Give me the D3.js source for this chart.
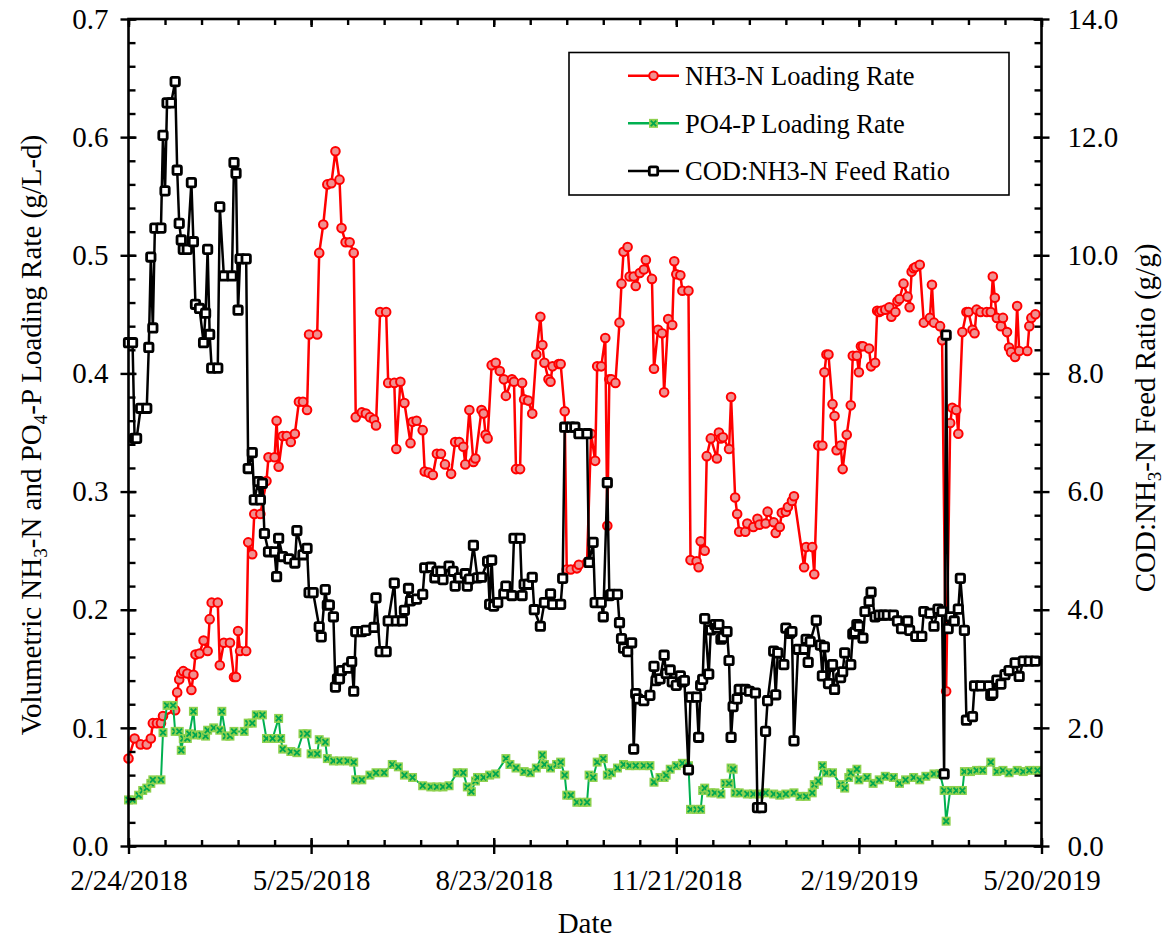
<!DOCTYPE html>
<html><head><meta charset="utf-8">
<script src="https://cdn.jsdelivr.net/npm/d3@7"></script>
<style>
body{margin:0;background:#fff}
svg{display:block}
text{font-family:"Liberation Serif","Times New Roman",serif;fill:#000}
</style>
</head><body>
<svg id="chart" width="1168" height="941"></svg>
<script>
// ---------- data ----------
const startDate = "2018-02-24";           // day 0
const dateTicks = ["2/24/2018","5/25/2018","8/23/2018","11/21/2018","2/19/2019","5/20/2019"];
const leftTicks = [0,0.1,0.2,0.3,0.4,0.5,0.6,0.7];
const rightTicks = [0,2,4,6,8,10,12,14];
const seriesNames = ["NH3-N Loading Rate","PO4-P Loading Rate","COD:NH3-N Feed Ratio"];

// [day since start, g/L-d]
const nh3Loading = [[0,0.074],[3,0.091],[6,0.086],[9,0.086],[11,0.091],[12,0.104],[14,0.104],[16,0.104],[17,0.110],[23,0.115],[24,0.130],[25,0.141],[26,0.146],[27,0.148],[29,0.146],[31,0.132],[32,0.145],[33,0.162],[35,0.163],[37,0.174],[39,0.165],[40,0.192],[41,0.206],[44,0.206],[45,0.153],[47,0.172],[50,0.172],[52,0.143],[53,0.143],[54,0.182],[55,0.165],[58,0.165],[59,0.257],[61,0.247],[62,0.281],[65,0.281],[68,0.309],[69,0.329],[72,0.329],[73,0.360],[74,0.321],[76,0.347],[78,0.347],[80,0.342],[82,0.349],[84,0.376],[86,0.376],[88,0.369],[89,0.433],[93,0.433],[94,0.502],[96,0.526],[98,0.560],[100,0.561],[102,0.588],[104,0.564],[105,0.523],[107,0.511],[109,0.511],[111,0.502],[112,0.363],[115,0.367],[117,0.366],[119,0.363],[121,0.361],[122,0.356],[124,0.452],[127,0.452],[128,0.392],[131,0.392],[132,0.336],[134,0.393],[136,0.375],[139,0.341],[140,0.359],[142,0.360],[145,0.352],[146,0.317],[148,0.316],[150,0.314],[152,0.332],[154,0.332],[156,0.323],[159,0.315],[161,0.342],[163,0.342],[165,0.338],[166,0.323],[168,0.369],[170,0.325],[171,0.328],[174,0.369],[175,0.366],[176,0.348],[177,0.345],[179,0.407],[181,0.409],[183,0.402],[185,0.395],[186,0.381],[189,0.395],[190,0.393],[191,0.319],[193,0.319],[194,0.392],[195,0.378],[197,0.377],[199,0.366],[201,0.416],[203,0.448],[204,0.424],[205,0.409],[207,0.395],[208,0.393],[209,0.406],[212,0.408],[213,0.408],[215,0.368],[216,0.234],[218,0.234],[221,0.235],[222,0.238],[226,0.240],[228,0.349],[230,0.326],[231,0.406],[233,0.406],[235,0.430],[236,0.271],[237,0.395],[238,0.395],[240,0.392],[242,0.443],[243,0.476],[244,0.503],[246,0.507],[247,0.482],[249,0.482],[250,0.474],[252,0.485],[254,0.488],[255,0.496],[258,0.480],[259,0.404],[261,0.437],[263,0.434],[264,0.384],[266,0.446],[268,0.441],[269,0.495],[270,0.484],[272,0.483],[273,0.470],[276,0.470],[277,0.242],[280,0.241],[281,0.236],[282,0.258],[284,0.250],[285,0.330],[287,0.345],[290,0.328],[291,0.350],[292,0.345],[293,0.346],[296,0.336],[297,0.380],[299,0.295],[300,0.281],[301,0.266],[304,0.266],[305,0.273],[308,0.270],[310,0.277],[311,0.272],[314,0.273],[315,0.283],[318,0.274],[319,0.265],[321,0.270],[322,0.282],[324,0.283],[325,0.287],[327,0.292],[328,0.296],[333,0.236],[334,0.253],[337,0.253],[338,0.230],[340,0.339],[342,0.339],[343,0.401],[344,0.416],[345,0.416],[347,0.374],[348,0.364],[349,0.335],[351,0.339],[352,0.319],[354,0.348],[356,0.373],[357,0.415],[359,0.415],[360,0.401],[361,0.423],[362,0.423],[365,0.421],[366,0.406],[368,0.409],[369,0.453],[370,0.452],[371,0.453],[373,0.454],[375,0.456],[376,0.448],[378,0.452],[379,0.461],[380,0.463],[382,0.476],[384,0.465],[385,0.456],[386,0.486],[387,0.489],[388,0.490],[390,0.492],[392,0.443],[395,0.447],[396,0.475],[397,0.443],[400,0.440],[401,0.428],[403,0.131],[405,0.358],[406,0.371],[408,0.369],[409,0.349],[411,0.435],[413,0.452],[414,0.452],[416,0.437],[417,0.434],[418,0.454],[420,0.452],[423,0.452],[425,0.452],[426,0.482],[427,0.464],[428,0.447],[430,0.440],[431,0.447],[433,0.435],[434,0.422],[435,0.418],[437,0.414],[438,0.457],[439,0.419],[443,0.419],[444,0.440],[445,0.447],[447,0.450]];

// [day since start, g/L-d]
const po4Loading = [[0,0.039],[2,0.039],[5,0.043],[7,0.047],[9,0.049],[11,0.053],[12,0.056],[16,0.056],[17,0.096],[19,0.119],[22,0.119],[23,0.097],[25,0.097],[26,0.081],[27,0.091],[29,0.091],[30,0.095],[32,0.114],[33,0.094],[36,0.094],[38,0.093],[39,0.098],[42,0.100],[45,0.098],[46,0.114],[48,0.093],[50,0.093],[52,0.097],[57,0.097],[59,0.104],[61,0.104],[63,0.111],[66,0.111],[68,0.091],[71,0.091],[74,0.108],[75,0.091],[76,0.082],[80,0.080],[83,0.079],[86,0.095],[88,0.095],[90,0.078],[93,0.078],[94,0.090],[97,0.088],[98,0.074],[101,0.072],[104,0.072],[108,0.072],[111,0.071],[112,0.056],[115,0.056],[119,0.060],[122,0.062],[126,0.062],[130,0.069],[133,0.067],[136,0.060],[140,0.058],[145,0.051],[149,0.050],[152,0.050],[155,0.050],[158,0.051],[162,0.062],[165,0.062],[167,0.050],[169,0.046],[171,0.055],[172,0.058],[175,0.058],[178,0.060],[181,0.061],[186,0.074],[188,0.069],[191,0.066],[195,0.063],[198,0.062],[201,0.066],[204,0.077],[205,0.069],[208,0.066],[211,0.069],[213,0.071],[215,0.060],[216,0.043],[218,0.043],[221,0.037],[224,0.037],[226,0.037],[227,0.060],[229,0.058],[231,0.071],[234,0.074],[236,0.060],[238,0.062],[241,0.066],[244,0.069],[247,0.068],[250,0.068],[254,0.068],[257,0.068],[259,0.054],[262,0.058],[264,0.058],[265,0.060],[267,0.065],[270,0.068],[273,0.070],[276,0.068],[277,0.031],[280,0.031],[282,0.031],[283,0.047],[284,0.049],[287,0.045],[289,0.045],[292,0.044],[294,0.053],[296,0.053],[297,0.066],[298,0.065],[299,0.045],[301,0.045],[305,0.044],[308,0.044],[311,0.044],[314,0.045],[318,0.044],[321,0.043],[324,0.044],[328,0.045],[331,0.042],[334,0.042],[337,0.045],[338,0.052],[340,0.055],[342,0.068],[344,0.062],[347,0.062],[351,0.052],[353,0.049],[355,0.058],[356,0.062],[359,0.065],[360,0.056],[364,0.058],[367,0.053],[370,0.056],[373,0.059],[377,0.058],[380,0.053],[383,0.056],[387,0.058],[390,0.056],[393,0.059],[397,0.061],[400,0.061],[402,0.047],[403,0.021],[405,0.047],[408,0.047],[411,0.047],[412,0.063],[415,0.063],[418,0.064],[421,0.064],[425,0.071],[428,0.063],[431,0.064],[434,0.062],[438,0.064],[441,0.063],[444,0.064],[448,0.064]];

// [day since start, g/g]
const codNh3Ratio = [[0,8.52],[2,8.52],[3,6.90],[4,6.90],[6,7.41],[9,7.41],[10,8.44],[11,9.97],[12,8.77],[13,10.46],[16,10.46],[17,12.03],[18,11.09],[19,12.58],[21,12.58],[23,12.94],[24,11.44],[25,10.54],[26,10.26],[27,10.10],[29,10.10],[31,11.23],[32,10.23],[33,9.17],[35,9.10],[37,8.52],[38,9.02],[39,10.10],[40,8.66],[41,8.09],[44,8.09],[45,10.82],[47,9.65],[51,9.65],[52,11.57],[53,11.39],[54,9.07],[55,9.94],[58,9.94],[59,6.39],[61,6.66],[62,5.86],[64,6.17],[65,5.86],[66,6.14],[67,5.29],[69,4.98],[72,4.98],[73,4.56],[74,5.21],[76,4.90],[79,4.86],[82,4.79],[83,5.34],[86,4.93],[88,5.04],[89,4.29],[91,4.29],[94,3.71],[95,3.54],[97,4.34],[98,4.08],[99,4.08],[101,3.88],[102,2.69],[103,2.83],[104,2.83],[105,2.97],[108,3.01],[110,3.12],[111,2.62],[112,3.63],[115,3.63],[117,3.65],[121,3.70],[122,4.20],[124,3.29],[127,3.29],[128,3.81],[131,4.45],[132,3.81],[135,3.81],[136,3.99],[138,4.36],[139,4.15],[142,4.18],[145,4.26],[146,4.71],[149,4.72],[151,4.54],[152,4.65],[154,4.65],[155,4.51],[158,4.74],[160,4.65],[161,4.40],[163,4.54],[166,4.61],[167,4.40],[168,4.52],[170,5.09],[172,4.54],[174,4.55],[177,4.82],[178,4.09],[179,4.84],[180,4.06],[182,4.12],[185,4.27],[186,4.40],[189,4.24],[190,5.21],[193,5.21],[194,4.24],[195,4.43],[197,4.43],[199,4.55],[200,4.00],[203,3.72],[205,4.12],[208,4.27],[209,4.09],[213,4.09],[214,4.53],[215,7.09],[218,7.09],[220,7.09],[222,6.98],[226,6.98],[227,4.80],[229,5.14],[230,4.12],[233,4.12],[234,3.88],[236,6.15],[237,4.24],[238,4.26],[241,4.26],[242,3.78],[243,3.51],[244,3.35],[246,3.29],[248,3.44],[249,1.64],[250,2.58],[251,2.49],[254,2.46],[257,2.55],[259,3.04],[260,2.80],[262,2.83],[264,3.23],[265,2.92],[267,2.98],[268,2.78],[270,2.72],[272,2.88],[273,2.78],[274,2.80],[276,1.29],[277,2.52],[280,2.52],[281,1.84],[282,2.72],[283,2.82],[284,3.85],[286,2.91],[287,3.66],[289,3.75],[290,3.69],[291,3.75],[292,3.50],[293,3.53],[295,3.63],[296,3.14],[297,1.84],[298,2.36],[300,2.49],[301,2.65],[304,2.65],[306,2.62],[309,2.59],[310,0.65],[312,0.65],[314,1.94],[315,2.46],[318,3.30],[319,2.56],[320,3.27],[323,3.07],[324,3.69],[326,3.60],[327,3.63],[328,1.78],[330,3.33],[333,3.33],[334,3.50],[335,3.11],[336,3.46],[339,3.82],[341,3.40],[342,2.88],[343,3.37],[345,2.75],[346,3.04],[347,3.07],[348,2.65],[351,2.85],[352,2.95],[353,3.27],[356,3.07],[357,3.59],[358,3.62],[359,3.75],[360,3.72],[362,3.52],[363,3.97],[365,4.14],[366,4.30],[368,3.88],[370,3.91],[372,3.91],[374,3.91],[377,3.91],[379,3.81],[381,3.68],[384,3.81],[385,3.65],[388,3.55],[391,3.55],[392,3.97],[395,3.94],[397,3.72],[399,4.01],[401,3.97],[402,1.22],[403,8.65],[404,3.68],[405,3.88],[407,3.81],[409,4.01],[410,4.53],[412,3.65],[413,2.13],[416,2.19],[417,2.71],[420,2.71],[424,2.71],[425,2.55],[426,2.58],[428,2.81],[430,2.74],[432,2.90],[434,2.97],[437,3.10],[439,2.87],[441,3.13],[444,3.13],[447,3.13]];

// ---------- scales ----------
const FONT = "Liberation Serif, Times New Roman, serif";
const svg = d3.select("#chart");
const P = {l:128.5, r:1041.5, t:19, b:846};
const parseTick = d3.utcParse("%m/%d/%Y");
const t0 = d3.utcParse("%Y-%m-%d")(startDate);
const toDate = d => d3.utcDay.offset(t0, d);
const tickDates = dateTicks.map(parseTick);
const x = d3.scaleUtc().domain([tickDates[0], tickDates[tickDates.length-1]]).range([P.l, P.r]);
const yL = d3.scaleLinear().domain([0, 0.7]).range([P.b, P.t]);
const yR = d3.scaleLinear().domain([0, 14]).range([P.b, P.t]);
const fmtDate = d => (d.getUTCMonth()+1) + "/" + d.getUTCDate() + "/" + d.getUTCFullYear();

const minorDates = d3.range(0, 451, 18).map(toDate);
const minorL = d3.range(0, 36).map(i => i*0.02);
const minorR = d3.range(0, 36).map(i => i*0.4);

function axisG(axis, tx, ty){
  const g = svg.append("g").attr("transform", `translate(${tx},${ty})`).call(axis);
  g.select(".domain").remove();
  g.attr("font-family", FONT).attr("font-size", 29);
  g.selectAll(".tick line").attr("stroke", "#000").attr("stroke-width", 2.4);
  g.selectAll(".tick text").attr("fill", "#000");
  return g;
}

// ---------- data lines ----------
const plot = svg.append("g");
function drawSeries(data, yScale, color, width, marker){
  const line = d3.line().x(d => x(toDate(d[0]))).y(d => yScale(d[1]));
  plot.append("path").datum(data).attr("d", line)
    .attr("fill", "none").attr("stroke", color).attr("stroke-width", width)
    .attr("stroke-linejoin", "round");
  const g = plot.append("g");
  data.forEach(d => marker(g, x(toDate(d[0])), yScale(d[1])));
}
function redMarker(g, cx, cy){
  g.append("circle").attr("cx", cx).attr("cy", cy).attr("r", 4.3)
    .attr("fill", "#f09090").attr("stroke", "#ff0000").attr("stroke-width", 2);
}
function greenMarker(g, cx, cy){
  g.append("rect").attr("x", cx-4.5).attr("y", cy-4.5).attr("width", 9).attr("height", 9)
    .attr("fill", "#8fd14f");
  g.append("path").attr("d", `M${cx-2.8},${cy-2.8}L${cx+2.8},${cy+2.8}M${cx+2.8},${cy-2.8}L${cx-2.8},${cy+2.8}`)
    .attr("stroke", "#00a651").attr("stroke-width", 1.8);
}
function blackMarker(g, cx, cy){
  g.append("rect").attr("x", cx-4.2).attr("y", cy-4.2).attr("width", 8.4).attr("height", 8.4)
    .attr("rx", 1.5).attr("fill", "#fff").attr("stroke", "#000").attr("stroke-width", 2.8);
}

drawSeries(nh3Loading, yL, "#ff0000", 2.5, redMarker);
drawSeries(po4Loading, yL, "#00b050", 2, greenMarker);
drawSeries(codNh3Ratio, yR, "#000", 2.5, blackMarker);

// ---------- frame & axes ----------
svg.append("rect").attr("x", P.l).attr("y", P.t).attr("width", P.r-P.l).attr("height", P.b-P.t)
  .attr("fill", "none").attr("stroke", "#000").attr("stroke-width", 2.6);

// left
axisG(d3.axisLeft(yL).tickValues(leftTicks).tickSize(8).tickPadding(12).tickFormat(d3.format(".1f")), P.l, 0);
axisG(d3.axisRight(yL).tickValues(leftTicks).tickSize(8).tickFormat(""), P.l, 0);
axisG(d3.axisRight(yL).tickValues(minorL).tickSize(7).tickFormat(""), P.l, 0);
// right
axisG(d3.axisRight(yR).tickValues(rightTicks).tickSize(8).tickPadding(18).tickFormat(d3.format(".1f")), P.r, 0);
axisG(d3.axisLeft(yR).tickValues(rightTicks).tickSize(8).tickFormat(""), P.r, 0);
axisG(d3.axisLeft(yR).tickValues(minorR).tickSize(7).tickFormat(""), P.r, 0);
// bottom
axisG(d3.axisBottom(x).tickValues(tickDates).tickSize(8).tickPadding(15).tickFormat(fmtDate), 0, P.b);
axisG(d3.axisTop(x).tickValues(tickDates).tickSize(8).tickFormat(""), 0, P.b);
axisG(d3.axisTop(x).tickValues(minorDates).tickSize(6).tickFormat(""), 0, P.b);
// top (mirror)
axisG(d3.axisBottom(x).tickValues(tickDates).tickSize(8).tickFormat(""), 0, P.t);
axisG(d3.axisBottom(x).tickValues(minorDates).tickSize(6).tickFormat(""), 0, P.t);

// ---------- titles ----------
svg.append("text").attr("x", (P.l+P.r)/2).attr("y", 933).attr("text-anchor", "middle")
  .attr("font-size", 29).text("Date");

function subTitle(tx, ty, parts){
  const t = svg.append("text").attr("transform", `translate(${tx},${ty}) rotate(-90)`)
    .attr("text-anchor", "middle").attr("font-size", 29);
  parts.forEach(p => {
    if (p.sub) { t.append("tspan").attr("font-size", 19).attr("dy", 6).text(p.s); }
    else if (p.after) { t.append("tspan").attr("dy", -6).text(p.s); }
    else { t.append("tspan").text(p.s); }
  });
}
subTitle(41, 435, [{s:"Volumetric NH"},{s:"3",sub:true},{s:"-N and PO",after:true},{s:"4",sub:true},{s:"-P Loading Rate (g/L-d)",after:true}]);
subTitle(1155, 418, [{s:"COD:NH"},{s:"3",sub:true},{s:"-N Feed Ratio (g/g)",after:true}]);

// ---------- legend ----------
const lg = svg.append("g");
lg.append("rect").attr("x", 569).attr("y", 52.5).attr("width", 440).attr("height", 142.5)
  .attr("fill", "#fff").attr("stroke", "#000").attr("stroke-width", 1.6);
const legendItems = [
  {name: seriesNames[0], color: "#ff0000", w: 2.5, marker: redMarker},
  {name: seriesNames[1], color: "#00b050", w: 2.5, marker: greenMarker},
  {name: seriesNames[2], color: "#000", w: 2.5, marker: blackMarker}
];
const rowY = d3.scalePoint().domain(seriesNames).range([75.7, 171]);
legendItems.forEach(it => {
  const yy = rowY(it.name);
  lg.append("line").attr("x1", 628).attr("x2", 679).attr("y1", yy).attr("y2", yy)
    .attr("stroke", it.color).attr("stroke-width", it.w);
  it.marker(lg, 653.5, yy);
  lg.append("text").attr("x", 685).attr("y", yy).attr("dy", "0.35em")
    .attr("font-size", 26.5).text(it.name);
});
</script>
</body></html>
